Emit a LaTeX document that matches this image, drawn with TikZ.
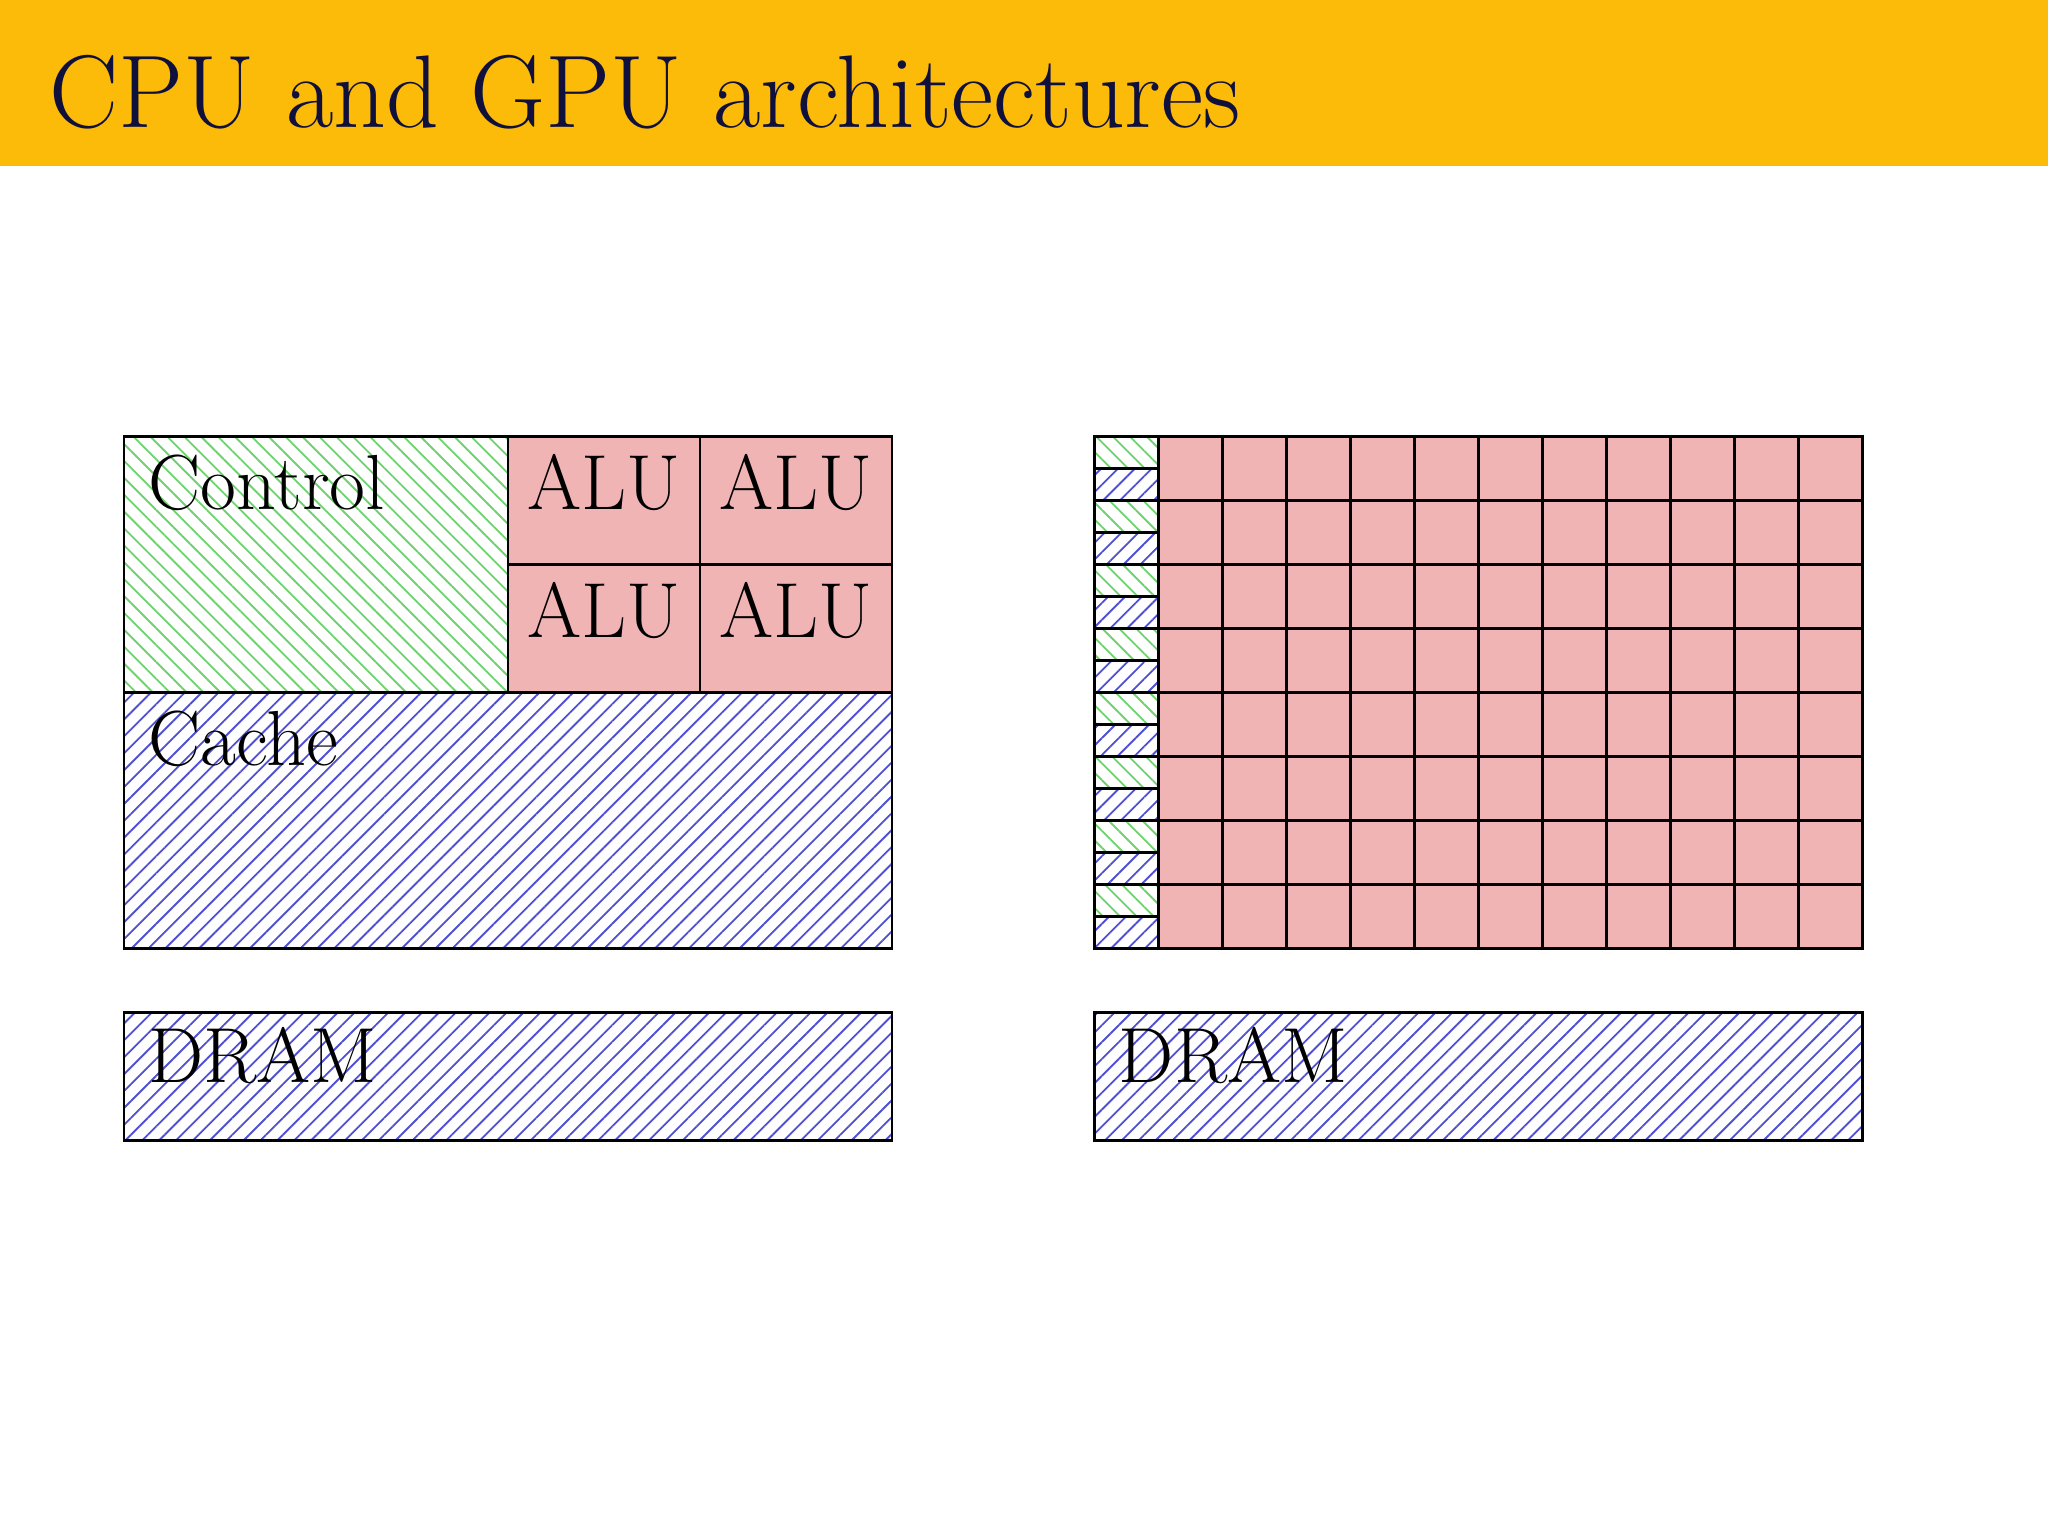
\documentclass[tikz,border=0pt]{standalone}
\usetikzlibrary{patterns.meta}
\definecolor{bar}{RGB}{252,187,8}
\definecolor{navy}{RGB}{16,16,60}
\definecolor{alu}{RGB}{240,180,180}
\definecolor{hb}{RGB}{80,80,210}
\definecolor{hg}{RGB}{110,210,110}
\begin{document}
\begin{tikzpicture}[x=0.01cm,y=-0.01cm,
  blk/.style={draw=black,line width=0.55pt},
  cache/.style={blk,pattern={Lines[angle=45,distance=2.6pt,line width=0.4pt]},pattern color=hb},
  ctrl/.style={blk,pattern={Lines[angle=-45,distance=2.6pt,line width=0.4pt]},pattern color=hg},
  alu/.style={blk,fill=alu},
  lbl/.style={anchor=base west,font=\fontsize{17}{19}\selectfont,inner sep=0pt},
  alul/.style={anchor=base,font=\fontsize{17}{19}\selectfont,inner sep=0pt}]
\useasboundingbox (0,0) rectangle (1568,1176);
\fill[bar] (0,0) rectangle (1568,127);
\node[anchor=base west,inner sep=0pt,text=navy,font=\fontsize{22.5}{26}\selectfont] (title) at (37,98) {CPU and GPU architectures};
% CPU
\draw[ctrl] (95,334) rectangle (389,530);
\node[lbl] (ctl) at (113,390) {Control};
\foreach \i/\x in {0/389,1/536}{
 \foreach \j/\y in {0/334,1/432}{
  \draw[alu] (\x,\y) rectangle ++(147,98);
  \node[alul] (alu\i\j) at (\x+73.5,\y+56) {ALU};
 }}
\draw[cache] (95,530) rectangle (683,726);
\node[lbl] (cache) at (113,586) {Cache};
\draw[cache] (95,775) rectangle (683,873);
\node[lbl] (dram1) at (113,829) {DRAM};
% GPU
\foreach \k in {0,...,7}{
 \draw[ctrl] (838,334+49*\k) rectangle ++(49,24.5);
 \draw[cache] (838,358.5+49*\k) rectangle ++(49,24.5);
}
\foreach \i in {0,...,10}{
 \foreach \j in {0,...,7}{
  \draw[alu] (887+49*\i,334+49*\j) rectangle ++(49,49);
 }}
\draw[cache] (838,775) rectangle (1426,873);
\node[lbl] (dram2) at (856,829) {DRAM};
\end{tikzpicture}
\end{document}
